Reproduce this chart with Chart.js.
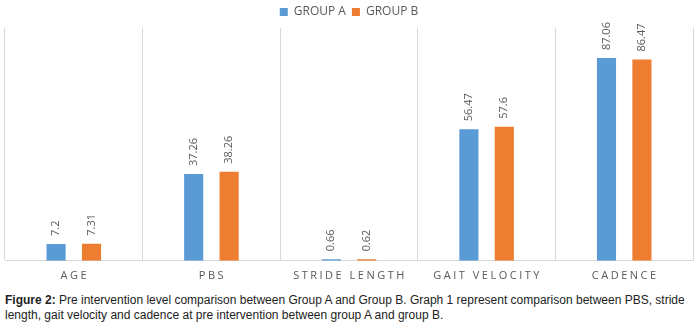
<!DOCTYPE html>
<html lang="en">
<head>
    <meta charset="UTF-8" />
    <title>Pre intervention comparison</title>
    <script src="https://cdn.jsdelivr.net/npm/chart.js"></script>
    <style>
        body { margin: 0; background: #fff; width: 700px; height: 325px; overflow: hidden; }
        #wrap { position: relative; width: 700px; height: 292px; }
        #caption { font-family: "Liberation Sans", Arial, sans-serif; font-size: 12px; line-height: 15px; color: #222; padding: 1px 0 0 5px; }
    </style>
</head>
<body>
    <div id="wrap"><canvas id="barChart"></canvas></div>
    <div id="caption"><b>Figure 2:</b> Pre intervention level comparison between Group A and Group B. Graph 1 represent comparison between PBS, stride<br>length, gait velocity and cadence at pre intervention between group A and group B.</div>

    <script>
        const categories = ['AGE', 'PBS', 'STRIDE LENGTH', 'GAIT VELOCITY', 'CADENCE'];
        const groupA = [7.2, 37.26, 0.66, 56.47, 87.06];
        const groupB = [7.31, 38.26, 0.62, 57.6, 86.47];

        const textGrey = '#595959';

        // rotated value labels above each bar
        const valueLabels = {
            id: 'valueLabels',
            afterDatasetsDraw(chart) {
                const ctx = chart.ctx;
                ctx.save();
                ctx.font = '11px "Open Sans", sans-serif';
                ctx.fillStyle = textGrey;
                ctx.textAlign = 'left';
                ctx.textBaseline = 'middle';
                chart.data.datasets.forEach((ds, di) => {
                    chart.getDatasetMeta(di).data.forEach((bar, i) => {
                        ctx.save();
                        ctx.translate(bar.x, bar.y - 8);
                        ctx.rotate(-Math.PI / 2);
                        ctx.fillText(String(ds.data[i]), 0, 0);
                        ctx.restore();
                    });
                });
                ctx.restore();
            }
        };

        // category labels with letter spacing
        const spacedTicks = {
            id: 'spacedTicks',
            afterDraw(chart) {
                const ctx = chart.ctx;
                const xs = chart.scales.x;
                ctx.save();
                ctx.font = '11px "Open Sans", sans-serif';
                ctx.letterSpacing = '2.5px';
                ctx.fillStyle = textGrey;
                ctx.textAlign = 'center';
                ctx.textBaseline = 'middle';
                categories.forEach((c, i) => {
                    ctx.fillText(c, xs.getPixelForValue(i) + 1, chart.chartArea.bottom + 15);
                });
                ctx.restore();
            }
        };

        new Chart(document.getElementById('barChart'), {
            type: 'bar',
            data: {
                labels: categories,
                datasets: [{
                    label: 'GROUP A',
                    data: groupA,
                    backgroundColor: '#5B9BD5'
                }, {
                    label: 'GROUP B',
                    data: groupB,
                    backgroundColor: '#ED7D31'
                }]
            },
            options: {
                responsive: true,
                maintainAspectRatio: false,
                animation: false,
                categoryPercentage: 0.515,
                barPercentage: 0.54,
                layout: { padding: { left: 5, right: 7, top: 0, bottom: 0 } },
                plugins: {
                    legend: {
                        position: 'top',
                        labels: {
                            boxWidth: 8,
                            boxHeight: 8,
                            color: textGrey,
                            padding: 6,
                            font: { size: 12, family: '"Open Sans", sans-serif' }
                        }
                    },
                    tooltip: { enabled: false }
                },
                scales: {
                    x: {
                        grid: { color: '#d9d9d9', offset: true, drawTicks: false },
                        border: { color: '#d9d9d9' },
                        ticks: { color: 'transparent', padding: 9, font: { size: 11 } }
                    },
                    y: {
                        display: false,
                        min: 0,
                        max: 100
                    }
                }
            },
            plugins: [valueLabels, spacedTicks]
        });
    </script>
</body>
</html>
